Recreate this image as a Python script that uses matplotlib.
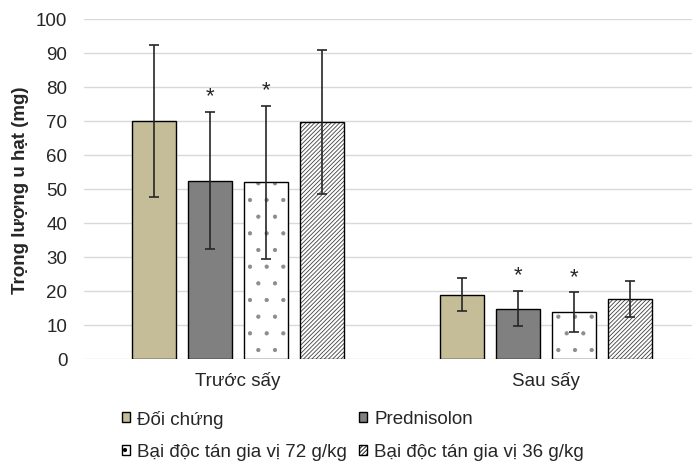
import numpy as np
import matplotlib.pyplot as plt
from matplotlib.patches import Patch

plt.rcParams['font.family'] = ['Liberation Sans', 'DejaVu Sans']
plt.rcParams['hatch.linewidth'] = 0.6

groups = ["Trước sấy", "Sau sấy"]
series = ["Đối chứng", "Prednisolon", "Bại độc tán gia vị 72 g/kg", "Bại độc tán gia vị 36 g/kg"]
means = [[70.0, 18.9],
         [52.5, 14.8],
         [52.0, 13.8],
         [69.7, 17.6]]
errs = [[22.3, 4.8],
        [20.2, 5.2],
        [22.5, 5.8],
        [21.2, 5.3]]
signif = [[False, False],
          [True, True],
          [True, True],
          [False, False]]

colors = ["#c4bd97", "#808080", "white", "white"]
hatches = [None, None, ".", "////////"]
hatch_colors = ["black", "black", "#8c8c8c", "#404040"]

fig = plt.figure(figsize=(6.92, 4.64), dpi=100)
ax = fig.add_axes([84 / 692, 104 / 464, 1 - 84 / 692, 340 / 464])

x = np.arange(len(groups))
step = 0.182
width = 0.143
for i in range(len(series)):
    pos = x + (i - 1.5) * step
    # fill + pattern first, then the black outline on top
    ax.bar(pos, means[i], width, color=colors[i], edgecolor=hatch_colors[i],
           linewidth=0, hatch=hatches[i], zorder=2)
    ax.bar(pos, means[i], width, fill=False, edgecolor="black",
           linewidth=1.0, zorder=2.5)
    ax.errorbar(pos, means[i], yerr=errs[i], fmt="none", ecolor="#262626",
                elinewidth=1.2, capsize=3.5, capthick=1.2, zorder=3)
    for j in range(len(groups)):
        if signif[i][j]:
            ax.text(pos[j], means[i][j] + errs[i][j] + 1.6, "*", ha="center",
                    va="bottom", fontsize=16, color="#262626")

ax.set_xlim(-0.5, 1.474)
ax.set_ylim(0, 100)
ax.set_yticks(np.arange(0, 101, 10))
ax.set_xticks(x)
ax.set_xticklabels(groups, fontsize=13.5, color="#262626")
ax.tick_params(axis="y", labelsize=13.5, colors="#262626", length=0, pad=12)
ax.tick_params(axis="x", length=0, pad=9)
ax.grid(axis="y", color="#d9d9d9", linewidth=1.0, zorder=0)
ax.set_axisbelow(True)
for s in ax.spines.values():
    s.set_visible(False)
ax.set_ylabel("Trọng lượng u hạt (mg)", fontsize=13.5, fontweight="bold",
              color="#262626", labelpad=5)

# legend entries laid out like the original (two rows, two columns)
leg_pos = [(122, 420), (359, 420), (122, 453), (359, 453)]
for i in range(len(series)):
    h = Patch(facecolor=colors[i], edgecolor="black", linewidth=1.0, hatch=hatches[i])
    leg = fig.legend([h], [series[i]], loc="center left",
                     bbox_to_anchor=(leg_pos[i][0] / 692, 1 - leg_pos[i][1] / 464),
                     frameon=False, fontsize=13.5, handlelength=0.45, handleheight=0.45,
                     handletextpad=0.35, borderpad=0, borderaxespad=0)
    for t in leg.get_texts():
        t.set_color("#262626")

fig.savefig("out.png", dpi=100)
